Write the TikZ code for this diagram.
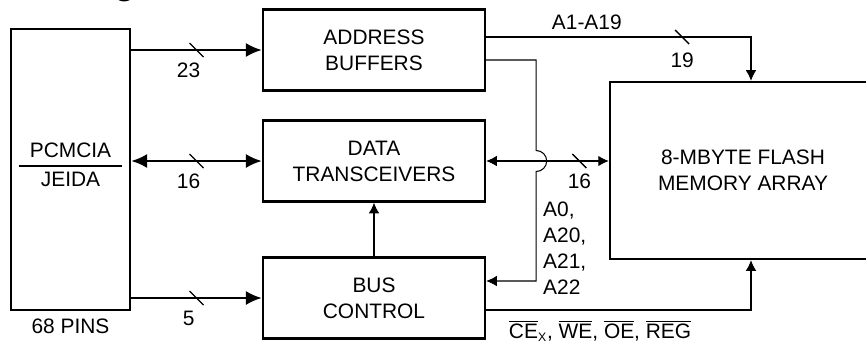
\documentclass[tikz,border=0pt]{standalone}
\usepackage{fontspec}
\setmainfont{Liberation Sans}
\usepackage{tikz}
\usetikzlibrary{arrows.meta,calc}
\tikzset{>={Latex[length=9pt,width=8pt]}}
\tikzset{
  blk/.style={draw,line width=1.4pt,minimum width=4.44cm,minimum height=1.62cm,align=center},
  bus/.style={line width=1.4pt},
  sig/.style={line width=0.6pt,>={Latex[length=6pt,width=6pt]}},
  num/.style={below=3.5pt,inner sep=3.3pt},
  tick/.style={line width=0.8pt}
}

\begin{document}
\begin{tikzpicture}[x=0.02cm,y=-0.02cm,font=\fontsize{11.9}{14.7}\selectfont]
            \useasboundingbox (0,0) rectangle (866,345);
            \clip (0,0) rectangle (866,345);
            \node[anchor=base west,inner sep=0pt,font=\bfseries\fontsize{19.8}{22}\selectfont] (title) at (-44,-6) {Block Diagram};
            \node[draw,line width=1.4pt,minimum width=2.38cm,minimum height=5.62cm] (pcm) at (70.5,169.5) {};
            \node (pc) at (70.5,150) {PCMCIA};
            \node (jd) at (70.5,179) {JEIDA};
            \draw[sig] (19,166) -- (122,166);
            \node[below=1pt] (pins) at (pcm.south) {68 PINS};
            \node[blk] (addr) at (374,50) {ADDRESS\\BUFFERS};
            \node[blk] (data) at (374,161) {DATA\\TRANSCEIVERS};
            \node[blk] (ctl) at (374,298) {BUS\\CONTROL};
            \node[draw,line width=1.4pt,minimum width=5.32cm,minimum height=3.54cm,align=center] (mem) at (743,170.5) {8-MBYTE FLASH\\MEMORY ARRAY};
            \draw[bus,->] (addr.west -| pcm.east) -- coordinate (s1) node[num,xshift=-4.5pt] {23} (addr.west);
            \draw[bus,<->] (data.west -| pcm.east) -- coordinate (s2) node[num,xshift=-4.5pt] {16} (data.west);
            \draw[bus,->] (ctl.west -| pcm.east) -- coordinate (s3) node[num,xshift=-4.5pt] {5} (ctl.west);
            \draw[sig,->] (ctl.north) -- (data.south);
            \path (data.east) ++(50,0) coordinate (jmp);
            \draw[sig,<->] (data.east) -- coordinate[pos=0.76] (s4) node[pos=0.76,below=3.7pt] {16} (data.east -| mem.west);
            \draw[sig,->] ([yshift=0.26cm]addr.east) -| coordinate[pos=0.37] (s5) node[pos=0.19,above=0.7pt] {A1-A19} node[pos=0.37,below=5.5pt] {19} ([xshift=0.16cm]mem.north);
            \draw[sig,->] ([yshift=-0.2cm]addr.east) -| ([yshift=0.21cm]jmp) arc[start angle=90,end angle=-90,radius=0.21cm] |- ([yshift=0.34cm]ctl.east);
            \node[anchor=north west,align=left] (abits) at (537,196) {A0,\\A20,\\A21,\\A22};
            \draw[sig,->] ([yshift=-0.24cm]ctl.east) -| node[pos=0.215,below=2pt] {$\overline{\mbox{CE}}_{\mbox{\fontsize{7}{8}\selectfont X}}$, $\overline{\mbox{WE}}$, $\overline{\mbox{OE}}$, $\overline{\mbox{REG}}$} ([xshift=0.16cm]mem.south);
            \foreach \s in {s1,s2,s3,s4,s5}
                \draw[tick] (\s) ++(-7,-7) -- ++(14,14);
        \end{tikzpicture}
\end{document}
